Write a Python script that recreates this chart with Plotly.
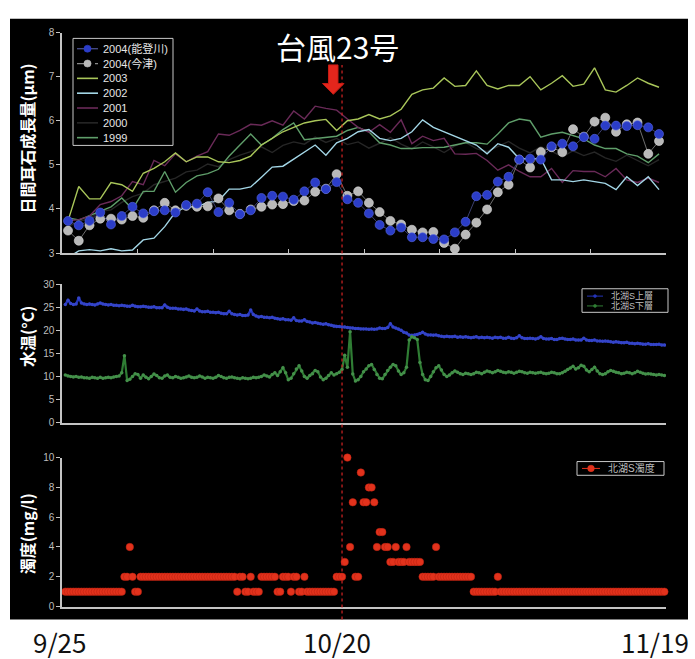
import numpy as np
import plotly.graph_objects as go

W, H = 695, 659

# ---------------- data ----------------
# daily otolith growth (day 0 = 9/25)
days = list(range(56))

noto_2004 = [3.73, 3.63, 3.73, 3.92, 3.65, 3.84, 4.05, 3.90, 3.95, 3.97,
             3.92, 4.09, 4.12, 4.38, 3.93, 4.14, 3.88, 3.97, 4.25, 4.30,
             4.28, 4.21, 4.40, 4.60, 4.45, 4.61, 4.22, 4.14, 3.90, 3.64,
             3.51, 3.58, 3.36, 3.36, 3.32, 3.31, 3.47, 3.71, 4.29, 4.32,
             4.62, 4.73, 5.12, 5.14, 5.12, 5.42, 5.48, 5.42, 5.63, 5.59,
             5.89, 5.89, 5.88, 5.90, 5.85, 5.70]
imazu_2004 = [3.51, 3.28, 3.63, 3.78, 3.78, 3.76, 3.84, 3.80, 3.97, 4.14,
              3.97, 4.07, 4.05, 4.06, 4.24, 3.97, 3.89, 3.99, 4.05, 4.10,
              4.11, 4.18, 4.19, 4.39, 4.46, 4.79, 4.30, 4.40, 4.14, 3.93,
              3.73, 3.65, 3.53, 3.47, 3.48, 3.23, 3.10, 3.42, 3.69, 3.99,
              4.38, 4.55, 5.12, 4.94, 5.29, 5.40, 5.29, 5.81, 5.64, 5.98,
              6.07, 5.75, 5.92, 5.96, 5.25, 5.54]
y2003 = [3.73, 4.51, 4.23, 4.23, 4.60, 4.55, 4.40, 4.81, 4.92, 5.07,
         5.27, 5.07, 5.18, 5.18, 5.07, 5.05, 5.10, 5.20, 5.45, 5.60,
         5.75, 5.85, 5.95, 6.00, 6.03, 5.78, 6.00, 6.04, 6.14, 6.04,
         6.11, 6.26, 6.60, 6.70, 6.74, 6.97, 6.78, 6.80, 7.13, 6.80,
         6.72, 6.80, 6.80, 7.00, 6.70, 6.85, 7.02, 6.78, 6.83, 7.20,
         6.70, 6.65, 6.80, 6.97, 6.85, 6.76]
y2002 = [2.90, 3.05, 3.08, 3.05, 3.10, 3.05, 3.07, 3.30, 3.34, 3.60,
         3.93, 4.05, 4.05, 4.15, 4.18, 4.45, 4.45, 4.50, 4.72, 4.95,
         4.97, 5.13, 5.30, 5.45, 5.22, 5.50, 5.60, 5.75, 5.80, 5.60,
         5.55, 5.60, 5.75, 6.02, 5.85, 5.75, 5.65, 5.55, 5.45, 5.25,
         5.48, 5.40, 5.14, 5.14, 5.14, 4.66, 4.66, 4.62, 4.66, 4.62,
         4.58, 4.44, 4.73, 4.53, 4.73, 4.44]
y2001 = [3.73, 3.76, 3.84, 4.10, 4.17, 4.30, 4.62, 4.55, 5.10, 4.98,
         5.25, 5.07, 5.20, 5.30, 5.70, 5.67, 5.78, 5.92, 5.90, 6.00,
         5.90, 6.22, 6.04, 6.33, 6.28, 6.24, 6.04, 5.85, 5.74, 5.91,
         5.74, 6.02, 5.48, 5.65, 5.55, 5.60, 5.25, 5.24, 5.26, 5.10,
         4.88, 5.00, 4.85, 4.73, 4.73, 4.92, 4.60, 4.87, 4.85, 4.85,
         4.73, 4.92, 4.66, 4.60, 4.70, 4.60]
y2000 = [3.60, 3.72, 3.78, 3.95, 3.98, 4.15, 4.28, 4.36, 4.55, 4.62,
         4.70, 4.84, 4.88, 5.02, 4.96, 5.12, 5.22, 5.30, 5.41, 5.28,
         5.44, 5.52, 5.47, 5.63, 5.51, 5.60, 5.46, 5.52, 5.38, 5.49,
         5.62, 5.47, 5.36, 5.52, 5.41, 5.28, 5.43, 5.51, 5.37, 5.30,
         5.42, 5.53, 5.38, 5.27, 5.41, 5.31, 5.18, 5.32, 5.21, 5.29,
         5.16, 5.08, 5.22, 5.10, 4.98, 5.12]
y1999 = [3.80, 3.75, 3.85, 3.95, 4.05, 4.25, 4.00, 4.40, 4.40, 4.85,
         4.38, 4.60, 4.75, 4.80, 4.90, 5.20, 5.45, 5.70, 5.45, 5.60,
         5.80, 5.95, 5.57, 5.60, 5.63, 5.65, 5.78, 5.85, 5.75, 5.50,
         5.45, 5.37, 5.37, 5.39, 5.39, 5.40, 5.45, 5.50, 5.50, 5.47,
         5.70, 5.95, 6.04, 6.00, 5.63, 5.70, 5.74, 5.66, 5.59, 5.45,
         5.37, 5.37, 5.25, 5.20, 5.05, 5.25]

# 6-hourly records, 4 per row (day-0.25, day, day+0.25, day+0.5)
t_q = np.arange(224) * 0.25 - 0.25

temp_upper = [
    25.6, 26.5, 25.8, 25.6,  25.7, 27.0, 25.9, 25.7,  25.6, 25.7, 25.6, 25.5,
    25.7, 25.9, 25.7, 25.6,  25.5, 25.6, 25.4, 25.4,  25.3, 25.4, 25.3, 25.2,
    25.2, 25.4, 25.2, 25.1,  25.1, 25.2, 25.1, 25.0,  25.0, 25.1, 24.9, 24.9,
    24.9, 25.5, 25.0, 24.8,  24.8, 24.8, 24.6, 24.6,  24.5, 24.6, 24.4, 24.3,
    24.2, 24.6, 24.2, 24.0,  24.0, 24.1, 23.9, 23.9,  23.8, 23.9, 23.7, 23.6,
    23.6, 24.1, 23.6, 23.4,  23.3, 23.4, 23.2, 23.2,  23.3, 24.4, 23.4, 23.1,
    22.9, 23.0, 22.8, 22.8,  22.7, 22.8, 22.6, 22.5,  22.4, 22.5, 22.3, 22.3,
    22.2, 22.7, 22.1, 22.0,  22.0, 22.3, 21.9, 21.8,  21.6, 21.7, 21.5, 21.4,
    21.3, 21.4, 21.2, 21.1,  20.9, 20.8, 20.8, 20.7,  20.7, 20.6, 20.5, 20.5,
    20.4, 20.4, 20.3, 20.3,  20.3, 20.2, 20.3, 20.2,  20.3, 20.5, 20.4, 20.4,
    20.6, 21.4, 20.7, 20.5,  20.3, 20.0, 19.6, 19.4,  19.0, 18.9, 19.0, 19.1,
    19.3, 19.6, 19.2, 19.0,  19.0, 18.9, 19.0, 18.8,  18.7, 18.6, 18.7, 18.6,
    18.6, 18.7, 18.5, 18.6,  18.5, 18.6, 18.5, 18.4,  18.5, 18.6, 18.4, 18.5,
    18.4, 18.5, 18.4, 18.3,  18.5, 18.4, 18.5, 18.3,  18.3, 18.5, 18.3, 18.2,
    18.4, 18.8, 18.4, 18.2,  18.2, 18.3, 18.2, 18.1,  18.3, 18.6, 18.2, 18.1,
    18.1, 18.2, 18.0, 18.0,  18.2, 18.3, 18.1, 18.0,  18.0, 18.1, 17.9, 17.9,
    17.9, 18.3, 17.9, 17.8,  17.8, 17.9, 17.7, 17.7,  17.6, 17.7, 17.6, 17.5,
    17.4, 17.5, 17.4, 17.3,  17.3, 17.4, 17.2, 17.2,  17.1, 17.2, 17.1, 17.0,
    17.0, 17.1, 16.9, 16.9,  16.9, 17.0, 16.8, 16.8,
]
temp_lower = [
    10.3, 10.1, 10.0, 9.9,   10.0, 9.8, 9.9, 9.7,    9.7, 9.6, 9.8, 9.7,
    9.6, 9.8, 9.6, 9.7,      9.8, 9.7, 9.9, 10.0,    10.1, 10.8, 14.5, 9.1,
    9.4, 10.0, 10.6, 10.4,   9.6, 10.3, 9.8, 9.5,    10.0, 10.5, 10.2, 9.7,
    9.6, 10.1, 10.3, 9.8,    9.7, 10.0, 9.8, 9.6,    9.7, 9.9, 10.1, 9.8,
    9.7, 9.8, 10.1, 9.9,     9.6, 9.8, 9.7, 9.6,     9.8, 10.2, 10.0, 9.7,
    9.6, 9.8, 9.9, 9.7,      9.6, 9.5, 9.7, 9.6,     9.5, 9.6, 9.8, 9.7,
    9.8, 10.0, 10.3, 10.1,   9.9, 10.4, 10.8, 10.2,  11.0, 11.9, 10.8, 9.3,
    9.6, 10.6, 11.6, 12.3,   11.2, 10.0, 9.6, 10.2,  10.6, 11.3, 11.0, 9.9,
    9.3, 9.6, 10.2, 10.8,    10.3, 10.6, 10.9, 11.5, 14.6, 12.0, 19.7, 10.5,
    9.0, 9.3, 10.0, 11.0,    11.6, 12.3, 12.6, 11.5, 10.4, 9.6, 9.5, 10.4,
    11.3, 12.0, 12.6, 12.3,  11.2, 10.4, 10.8, 12.0, 17.9, 18.6, 18.4, 18.0,
    13.0, 10.4, 9.3, 9.1,    10.0, 11.0, 11.9, 12.3, 11.4, 10.4, 10.0, 10.3,
    10.8, 11.2, 10.9, 10.6,  10.4, 10.7, 10.6, 10.4, 10.6, 10.9, 10.8, 10.6,
    10.9, 11.2, 11.0, 10.8,  11.0, 11.3, 11.1, 10.9, 10.8, 11.0, 10.9, 10.7,
    10.9, 11.1, 11.0, 10.8,  10.7, 10.9, 10.8, 10.7, 10.8, 10.9, 10.7, 10.6,
    10.7, 10.9, 10.8, 10.6,  10.6, 10.8, 11.1, 11.5, 11.8, 12.2, 11.6, 11.9,
    12.4, 12.2, 11.4, 11.0,  11.5, 12.0, 11.2, 10.6, 10.4, 10.6, 11.0, 11.3,
    11.1, 10.9, 10.8, 10.6,  10.7, 10.9, 10.8, 10.6, 10.8, 11.1, 10.9, 10.7,
    10.5, 10.6, 10.5, 10.4,  10.3, 10.4, 10.3, 10.2,
]
turbidity = [
    1, 1, 1, 1,  1, 1, 1, 1,  1, 1, 1, 1,  1, 1, 1, 1,  1, 1, 1, 1,
    1, 1, 2, 2,  4, 2, 1, 1,  2, 2, 2, 2,  2, 2, 2, 2,  2, 2, 2, 2,
    2, 2, 2, 2,  2, 2, 2, 2,  2, 2, 2, 2,  2, 2, 2, 2,  2, 2, 2, 2,
    2, 2, 2, 2,  1, 2, 2, 1,  1, 2, 1, 1,  1, 2, 2, 2,  2, 2, 2, 1,
    1, 2, 2, 2,  1, 2, 2, 1,  1, 2, 1, 1,  1, 1, 1, 1,  1, 1, 1, 1,
    1, 2, 2, 2,  3, 10, 4, 7, 2, 2, 9, 7,  7, 8, 8, 7,  4, 5, 5, 4,
    4, 3, 3, 4,  3, 3, 3, 4,  3, 3, 3, 3,  3, 2, 2, 2,  2, 2, 4, 2,
    2, 2, 2, 2,  2, 2, 2, 2,  2, 2, 2, 2,  1, 1, 1, 1,  1, 1, 1, 1,
    1, 2, 1, 1,  1, 1, 1, 1,  1, 1, 1, 1,  1, 1, 1, 1,  1, 1, 1, 1,
    1, 1, 1, 1,  1, 1, 1, 1,  1, 1, 1, 1,  1, 1, 1, 1,  1, 1, 1, 1,
    1, 1, 1, 1,  1, 1, 1, 1,  1, 1, 1, 1,  1, 1, 1, 1,  1, 1, 1, 1,
    1, 1, 1, 1,
]

typhoon_day = 25.5
date_labels = ["9/25", "10/20", "11/19"]
date_days = [0, 25, 55]

# ---------------- styling ----------------
C_NOTO = "#2b3dc8"
C_IMAZU = "#b9b9b9"
C_2003 = "#a9c65a"
C_2002 = "#a3d6e6"
C_2001 = "#6a2a58"
C_2000 = "#262626"
C_1999 = "#5f9e6a"
C_UP = "#2434b8"
C_LO = "#2f7d34"
C_TURB = "#e2321c"
AXIS = "#c4c4c4"
TICKF = dict(family="Liberation Sans, Arial", size=10, color="#bdbdbd")
CJK = "Noto Sans CJK JP"


def px(x):
    return x / W


def py(y):
    return 1 - y / H


XR = [-0.56, 55.65]
XDOM = [px(62), px(666)]

fig = go.Figure()

# top panel: past years
for vals, col, nm in [(y2000, C_2000, "2000"), (y1999, C_1999, "1999"),
                      (y2001, C_2001, "2001"), (y2002, C_2002, "2002"),
                      (y2003, C_2003, "2003")]:
    fig.add_trace(go.Scatter(x=days, y=vals, mode="lines", name=nm,
                             line=dict(color=col, width=1.4),
                             xaxis="x", yaxis="y", showlegend=False))
fig.add_trace(go.Scatter(x=days, y=imazu_2004, mode="lines+markers",
                         name="2004(今津)",
                         line=dict(color="#8a8a8a", width=0.8),
                         marker=dict(color=C_IMAZU, size=9,
                                     line=dict(color="#dcdcdc", width=0.6)),
                         xaxis="x", yaxis="y", showlegend=False))
fig.add_trace(go.Scatter(x=days, y=noto_2004, mode="lines+markers",
                         name="2004(能登川)",
                         line=dict(color="#4a4f8a", width=0.8),
                         marker=dict(color=C_NOTO, size=9,
                                     line=dict(color="#5868e0", width=0.6)),
                         xaxis="x", yaxis="y", showlegend=False))

# middle panel: water temperature
fig.add_trace(go.Scatter(x=t_q, y=temp_upper, mode="lines+markers",
                         name="北湖S上層",
                         line=dict(color=C_UP, width=2.4),
                         marker=dict(color="#3444c8", size=3.5),
                         xaxis="x2", yaxis="y2", showlegend=False))
fig.add_trace(go.Scatter(x=t_q, y=temp_lower, mode="lines+markers",
                         name="北湖S下層",
                         line=dict(color=C_LO, width=2.2),
                         marker=dict(color="#44904a", size=3.5),
                         xaxis="x2", yaxis="y2", showlegend=False))

# bottom panel: turbidity
fig.add_trace(go.Scatter(x=t_q, y=turbidity, mode="markers",
                         name="北湖S濁度", cliponaxis=False,
                         marker=dict(color=C_TURB, size=7.5,
                                     line=dict(color="#b82010", width=0.5)),
                         xaxis="x3", yaxis="y3", showlegend=False))

common_x = dict(domain=XDOM, range=XR, showgrid=False, zeroline=False,
                showline=True, linecolor=AXIS, linewidth=1.5,
                showticklabels=False)
common_y = dict(showgrid=False, zeroline=False, showline=True,
                linecolor=AXIS, linewidth=1.5, ticks="outside", ticklen=4,
                tickcolor=AXIS, tickfont=TICKF)

fig.update_layout(
    width=W, height=H,
    margin=dict(l=0, r=0, t=0, b=0),
    paper_bgcolor="white", plot_bgcolor="black",
    xaxis=dict(**common_x, anchor="y", ticks="inside", ticklen=4,
               tickcolor=AXIS, tickmode="linear", tick0=XR[0],
               dtick=(XR[1] - XR[0]) / 8),
    yaxis=dict(**common_y, domain=[py(251.7), py(27)], range=[3, 8],
               dtick=1, anchor="x"),
    xaxis2=dict(**common_x, anchor="y2", ticks=""),
    yaxis2=dict(**common_y, domain=[py(424.3), py(283.3)], range=[0, 30],
                dtick=5, anchor="x2"),
    xaxis3=dict(**common_x, anchor="y3", ticks=""),
    yaxis3=dict(**common_y, domain=[py(611.7), py(460)], range=[0, 10],
                dtick=2, anchor="x3"),
)

shapes = []
ann = []

# black board behind the three panels
shapes.append(dict(type="rect", xref="paper", yref="paper", layer="below",
                   x0=px(10), x1=px(688), y0=py(625), y1=py(13),
                   fillcolor="black", line=dict(width=0)))

# typhoon marker: dotted line and arrow
shapes.append(dict(type="line", xref="x", yref="paper",
                   x0=typhoon_day, x1=typhoon_day, y0=py(625), y1=py(60),
                   line=dict(color="#d42424", width=1.2, dash="dot")))
arrow_pts = [(328.5, 60), (338, 60), (338, 79), (344, 79), (333.3, 90),
             (322.5, 79), (328.5, 79)]
path = "M " + " L ".join(f"{px(a):.5f},{py(b):.5f}" for a, b in arrow_pts) + " Z"
shapes.append(dict(type="path", xref="paper", yref="paper", path=path,
                   fillcolor="#e3261c", line=dict(color="#c81c14", width=1)))

ann.append(dict(text="台風23号", x=px(337), y=py(41), xref="paper",
                yref="paper", showarrow=False, xanchor="center",
                yanchor="middle",
                font=dict(family=CJK, size=30, color="white")))

# axis titles
for txt, yy in [("日間耳石成長量(μm)", 135), ("水温(°C)", 336),
                ("濁度(mg/l)", 537)]:
    ann.append(dict(text=f"<b>{txt}</b>", x=px(27), y=py(yy), xref="paper",
                    yref="paper", showarrow=False, textangle=-90,
                    xanchor="center", yanchor="middle",
                    font=dict(family=CJK, size=16, color="white")))

# date labels under the board
for lab, d, sh in zip(date_labels, date_days, [-9, 0, -4]):
    ann.append(dict(text=lab, x=d, xref="x3", y=py(647), yref="paper",
                    xshift=sh, showarrow=False, xanchor="center",
                    yanchor="middle",
                    font=dict(family=CJK, size=26, color="#111111")))

# ---- legend boxes ----
LEGF = "Liberation Sans, Noto Sans CJK JP"


def legend_box(x0, y0, x1, y1):
    shapes.append(dict(type="rect", xref="paper", yref="paper",
                       x0=px(x0), x1=px(x1), y0=py(y1), y1=py(y0),
                       fillcolor="black", line=dict(color="#c8c8c8", width=1)))


def legend_line(x0, x1, y, color, width=1.4, dash="solid"):
    shapes.append(dict(type="line", xref="paper", yref="paper",
                       x0=px(x0), x1=px(x1), y0=py(y), y1=py(y),
                       line=dict(color=color, width=width, dash=dash)))


def legend_dot(cx, cy, r, color, edge=None):
    shapes.append(dict(type="circle", xref="paper", yref="paper",
                       x0=px(cx - r), x1=px(cx + r), y0=py(cy + r),
                       y1=py(cy - r), fillcolor=color,
                       line=dict(color=edge or color, width=0.6)))


def legend_text(x, y, txt, size, color):
    ann.append(dict(text=txt, x=px(x), y=py(y), xref="paper", yref="paper",
                    showarrow=False, xanchor="left", yanchor="middle",
                    font=dict(family=LEGF, size=size, color=color)))


# top legend
legend_box(73, 33, 173, 142)
top_items = [("2004(能登川)", "#4a4f8a", C_NOTO, "solid"),
             ("2004(今津)", "#8a8a8a", C_IMAZU, "dash"),
             ("2003", C_2003, None, "solid"),
             ("2002", C_2002, None, "solid"),
             ("2001", C_2001, None, "solid"),
             ("2000", C_2000, None, "solid"),
             ("1999", C_1999, None, "solid")]
for i, (nm, lc, mc, dash) in enumerate(top_items):
    yy = 43.5 + i * 15.1
    legend_line(77, 98, yy, lc, 1.3 if mc else 1.6, dash)
    if mc:
        legend_dot(87.5, yy, 3.6, mc)
    legend_text(101, yy, nm, 11, "#e6e6e6")

# temperature legend
legend_box(582, 288, 668, 312)
for i, (nm, c) in enumerate([("北湖S上層", C_UP), ("北湖S下層", C_LO)]):
    yy = 295.5 + i * 10
    legend_line(587, 603, yy, c, 1)
    legend_dot(595, yy, 1.5, c)
    legend_text(609, yy, nm, 9, "#bdbdbd")

# turbidity legend
legend_box(577, 464, 664, 478)
legend_line(582, 600, 471, C_TURB, 1)
legend_dot(591, 471, 3.3, C_TURB)
legend_text(606, 471, "北湖S濁度", 10, "#bdbdbd")

fig.update_layout(shapes=shapes, annotations=ann)
fig.write_html("out.html")
